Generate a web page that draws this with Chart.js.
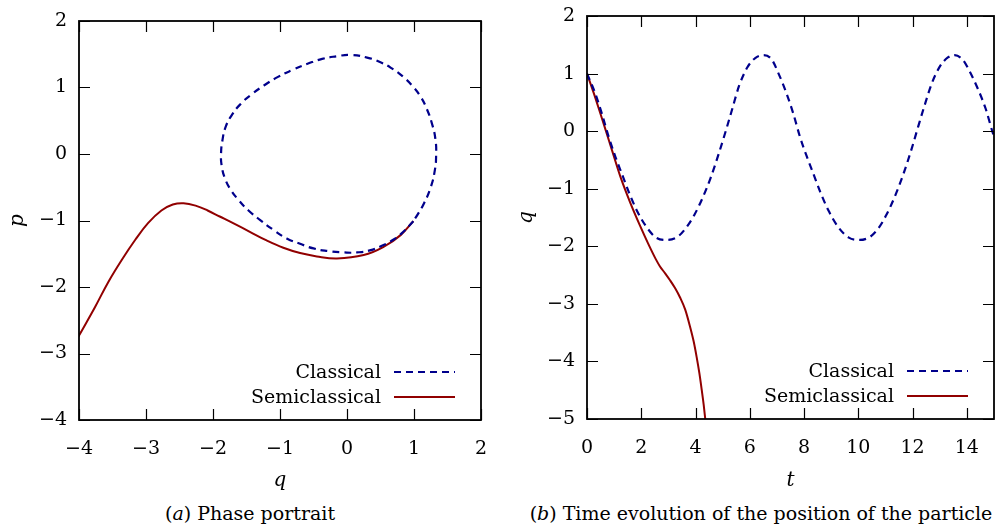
<!DOCTYPE html>
<html>
<head>
<meta charset="utf-8">
<script src="https://cdn.jsdelivr.net/npm/chart.js@4.4.0/dist/chart.umd.min.js"></script>
<style>
  body { margin: 0; background: #fff; width: 999px; height: 527px; overflow: hidden; position: relative; }
  .box { position: absolute; top: 0; height: 495px; }
  #boxA { left: 0; width: 490px; }
  #boxB { left: 500px; width: 499px; }
  .cap { position: absolute; top: 502px; font-family: 'DejaVu Serif', serif; font-size: 19px; color: #000; white-space: nowrap; text-align: center; }
  #capA { left: 0; width: 500px; }
  #capB { left: 498px; width: 526px; }
</style>
</head>
<body>
<div class="box" id="boxA"><canvas id="phase"></canvas></div>
<div class="box" id="boxB"><canvas id="timeEvo"></canvas></div>
<div class="cap" id="capA">(<i>a</i>) Phase portrait</div>
<div class="cap" id="capB">(<i>b</i>) Time evolution of the position of the particle</div>
<script>
// ---- data ----
// phase portrait, classical orbit (closed loop, starts at q=1, p=-1)
var classicalQ = [0.99, 0.84, 0.69, 0.52, 0.34, 0.15, -0.05, -0.28, -0.50, -0.70, -0.90, -1.10, -1.30, -1.47, -1.62, -1.74, -1.82, -1.87, -1.88,
                  -1.86, -1.81, -1.71, -1.58, -1.42, -1.24, -1.03, -0.80, -0.58, -0.37, -0.15, 0.05, 0.30, 0.50, 0.68, 0.84, 0.98,
                  1.10, 1.19, 1.27, 1.32, 1.33, 1.31, 1.25, 1.15, 1.06, 0.99];
var classicalP = [-1.01, -1.17, -1.29, -1.38, -1.45, -1.48, -1.48, -1.46, -1.42, -1.35, -1.27, -1.14, -0.99, -0.85, -0.69, -0.53, -0.37, -0.18, 0.0,
                  0.20, 0.41, 0.60, 0.76, 0.90, 1.03, 1.16, 1.27, 1.36, 1.43, 1.47, 1.49, 1.45, 1.38, 1.28, 1.16, 1.02,
                  0.86, 0.68, 0.45, 0.22, -0.03, -0.25, -0.50, -0.74, -0.90, -1.01];
// phase portrait, semiclassical trajectory
var semiQ = [0.99, 0.80, 0.54, 0.25, -0.15, -0.45, -0.70, -0.95, -1.20, -1.45, -1.70, -1.90, -2.08, -2.25, -2.44, -2.60, -2.77, -2.97, -3.16, -3.36, -3.56, -3.76, -4.01, -4.10];
var semiP = [-1.01, -1.22, -1.40, -1.52, -1.57, -1.54, -1.49, -1.41, -1.30, -1.17, -1.04, -0.94, -0.85, -0.78, -0.74, -0.76, -0.85, -1.04, -1.29, -1.59, -1.92, -2.30, -2.75, -2.92];

// time evolution q(t), classical
var tClassical = [0.0, 0.3, 0.55, 0.8, 1.05, 1.3, 1.55, 1.85, 2.2, 2.55, 2.95, 3.35, 3.65, 3.95, 4.25, 4.55, 4.85, 5.1, 5.35, 5.6, 5.9, 6.2, 6.5, 6.8, 7.06, 7.35, 7.6, 7.85, 8.1, 8.35, 8.6, 8.9, 9.25, 9.65, 10.05, 10.45, 10.75, 11.05, 11.35, 11.65, 11.95, 12.2, 12.45, 12.7, 13.0, 13.3, 13.55, 13.85, 14.1, 14.4, 14.7, 14.95, 15.0];
var qClassical = [1.00, 0.66, 0.30, -0.10, -0.45, -0.76, -1.07, -1.39, -1.67, -1.85, -1.89, -1.83, -1.68, -1.46, -1.17, -0.82, -0.40, -0.02, 0.38, 0.78, 1.10, 1.27, 1.32, 1.25, 1.00, 0.66, 0.31, -0.10, -0.44, -0.75, -1.06, -1.38, -1.66, -1.85, -1.89, -1.83, -1.68, -1.44, -1.13, -0.76, -0.33, 0.07, 0.46, 0.82, 1.12, 1.28, 1.32, 1.24, 1.04, 0.74, 0.38, -0.02, -0.08];
// time evolution q(t), semiclassical
var tSemi = [0.0, 0.25, 0.49, 0.7, 0.92, 1.23, 1.6, 1.97, 2.25, 2.52, 2.69, 2.88, 3.06, 3.25, 3.43, 3.62, 3.8, 3.93, 4.04, 4.14, 4.23, 4.3, 4.37, 4.45];
var qSemi = [1.0, 0.66, 0.31, 0.0, -0.33, -0.79, -1.25, -1.66, -1.95, -2.21, -2.35, -2.47, -2.59, -2.73, -2.89, -3.10, -3.40, -3.65, -3.92, -4.20, -4.50, -4.75, -5.05, -5.45];

var seriesNames = ['Classical', 'Semiclassical'];
var blue = 'rgb(0, 0, 140)';
var red = 'rgb(145, 0, 0)';
var serif = "'DejaVu Serif', serif";

function pts(xs, ys) {
    return xs.map(function(x, i) { return {x: x, y: ys[i]}; });
}

function minusFmt(v) {
    return v < 0 ? '\u2212' + Math.abs(v) : String(v);
}

// frame, inward ticks on all four sides, and the legend in the lower right corner
var framePlugin = {
    id: 'frameTicks',
    afterDatasetsDraw: function(chart) {
        var ctx = chart.ctx, a = chart.chartArea;
        var sx = chart.scales.x, sy = chart.scales.y;
        ctx.save();
        ctx.strokeStyle = '#000';
        ctx.lineWidth = 1.2;
        ctx.beginPath();
        sx.ticks.forEach(function(t) {
            var x = Math.round(sx.getPixelForValue(t.value)) + 0.5;
            ctx.moveTo(x, a.bottom); ctx.lineTo(x, a.bottom - 11);
            ctx.moveTo(x, a.top); ctx.lineTo(x, a.top + 11);
        });
        sy.ticks.forEach(function(t) {
            var y = Math.round(sy.getPixelForValue(t.value)) + 0.5;
            ctx.moveTo(a.left, y); ctx.lineTo(a.left + 11, y);
            ctx.moveTo(a.right, y); ctx.lineTo(a.right - 11, y);
        });
        ctx.stroke();
        ctx.lineWidth = 1.8;
        ctx.strokeRect(a.left, a.top, a.right - a.left, a.bottom - a.top);

        // legend
        ctx.font = '19px ' + serif;
        ctx.textAlign = 'right';
        ctx.textBaseline = 'middle';
        ctx.fillStyle = '#000';
        chart.data.datasets.forEach(function(ds, i) {
            var y = a.bottom - 48 + i * 25;
            ctx.fillText(ds.label, a.right - 100, y + 1);
            ctx.beginPath();
            ctx.strokeStyle = ds.borderColor;
            ctx.lineWidth = 2;
            ctx.setLineDash(ds.borderDash || []);
            ctx.moveTo(a.right - 87, y);
            ctx.lineTo(a.right - 26, y);
            ctx.stroke();
            ctx.setLineDash([]);
        });
        ctx.restore();
    }
};

function noOverflow(s) {
    s.paddingTop = 0; s.paddingBottom = 0; s.paddingLeft = 0; s.paddingRight = 0;
}

function makeOptions(o) {
    return {
        responsive: true,
        maintainAspectRatio: false,
        animation: false,
        layout: { padding: { top: o.top, right: o.right, left: 0, bottom: 0 } },
        plugins: { legend: { display: false }, tooltip: { enabled: false } },
        elements: { point: { radius: 0 } },
        scales: {
            x: {
                type: 'linear',
                min: o.xMin, max: o.xMax,
                grid: { display: false, drawTicks: false },
                border: { display: false },
                ticks: {
                    stepSize: o.xStep, includeBounds: false,
                    color: '#000', padding: 18,
                    font: { family: serif, size: 19 },
                    callback: minusFmt, maxRotation: 0
                },
                title: {
                    display: true, text: o.xTitle, color: '#000',
                    font: { family: serif, size: 20, style: 'italic' },
                    padding: { top: 0, bottom: 2 }
                },
                afterFit: function(s) { s.height = o.xHeight; noOverflow(s); }
            },
            y: {
                type: 'linear',
                min: o.yMin, max: o.yMax,
                grid: { display: false, drawTicks: false },
                border: { display: false },
                ticks: {
                    stepSize: 1, color: '#000', padding: 12,
                    font: { family: serif, size: 19 },
                    callback: minusFmt
                },
                title: {
                    display: true, text: o.yTitle, color: '#000',
                    font: { family: serif, size: 20, style: 'italic' },
                    padding: { top: o.yTitlePad, bottom: 0 }
                },
                afterFit: function(s) { s.width = o.yWidth; noOverflow(s); }
            }
        }
    };
}

// (a) phase portrait
new Chart(document.getElementById('phase'), {
    type: 'scatter',
    data: {
        datasets: [{
            label: seriesNames[0],
            data: pts(classicalQ, classicalP),
            showLine: true, borderColor: blue, borderWidth: 2.2,
            borderDash: [7, 5], tension: 0.5
        }, {
            label: seriesNames[1],
            data: pts(semiQ, semiP),
            showLine: true, borderColor: red, borderWidth: 2,
            tension: 0.4
        }]
    },
    options: makeOptions({
        top: 21, right: 9, xMin: -4, xMax: 2, xStep: 1, yMin: -4, yMax: 2,
        xTitle: 'q', yTitle: 'p', xHeight: 75, yWidth: 79, yTitlePad: 6
    }),
    plugins: [framePlugin]
});

// (b) time evolution of q
new Chart(document.getElementById('timeEvo'), {
    type: 'scatter',
    data: {
        datasets: [{
            label: seriesNames[0],
            data: pts(tClassical, qClassical),
            showLine: true, borderColor: blue, borderWidth: 2.2,
            borderDash: [7, 5], cubicInterpolationMode: 'monotone'
        }, {
            label: seriesNames[1],
            data: pts(tSemi, qSemi),
            showLine: true, borderColor: red, borderWidth: 2,
            cubicInterpolationMode: 'monotone'
        }]
    },
    options: makeOptions({
        top: 16, right: 5, xMin: 0, xMax: 15, xStep: 2, yMin: -5, yMax: 2,
        xTitle: 't', yTitle: 'q', xHeight: 76, yWidth: 87, yTitlePad: 15
    }),
    plugins: [framePlugin]
});
</script>
</body>
</html>
